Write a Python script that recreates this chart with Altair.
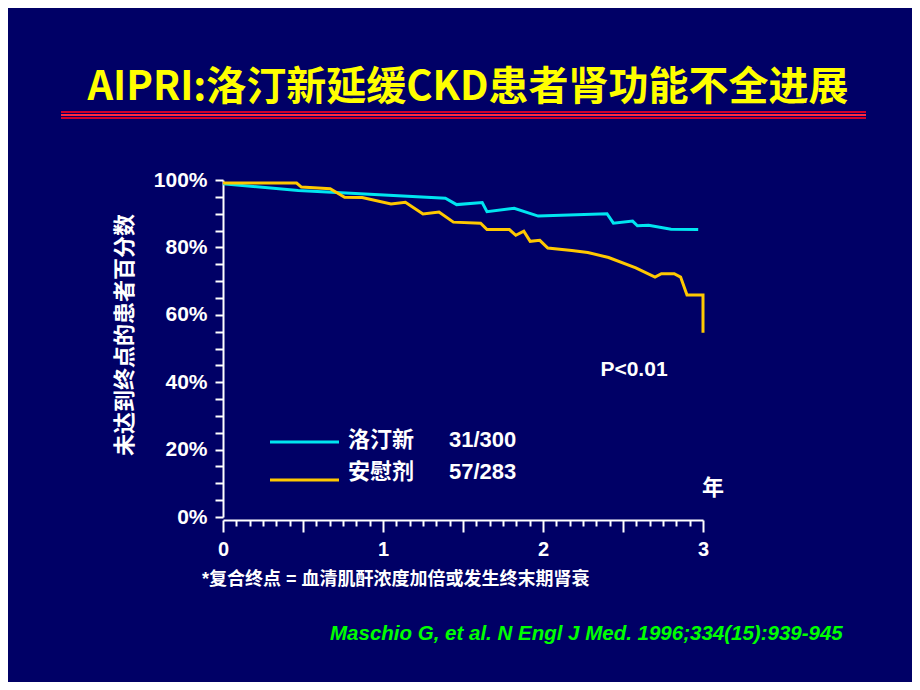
import altair as alt
import pandas as pd

# ---- data ----
lot_t = [0.0, 0.47, 0.68, 1.39, 1.46, 1.62, 1.65, 1.82, 1.97, 2.40, 2.44, 2.56, 2.59, 2.66, 2.80, 2.97]
lot_v = [98.9, 96.9, 96.4, 94.6, 92.7, 93.3, 90.6, 91.6, 89.3, 90.0, 87.2, 87.8, 86.4, 86.6, 85.4, 85.3]

pla_t = [0.0, 0.46, 0.49, 0.67, 0.76, 0.87, 1.05, 1.14, 1.25, 1.35, 1.44, 1.61, 1.65, 1.79, 1.83, 1.88,
         1.92, 1.98, 2.03, 2.18, 2.28, 2.41, 2.58, 2.70, 2.74, 2.82, 2.86, 2.90, 3.0, 3.0]
pla_v = [99.1, 99.1, 97.9, 97.4, 94.9, 94.8, 92.9, 93.4, 89.9, 90.5, 87.5, 87.2, 85.3, 85.3, 83.6, 84.8,
         81.8, 82.1, 79.8, 79.1, 78.5, 77.0, 73.9, 71.2, 72.2, 72.2, 71.2, 65.9, 65.9, 54.7]

groups = ["洛汀新", "安慰剂"]
counts = ["31/300", "57/283"]
colors = ["#00E5F0", "#FFC800"]

title_text = "AIPRI:洛汀新延缓CKD患者肾功能不全进展"
y_title = "未达到终点的患者百分数"
p_text = "P<0.01"
x_unit = "年"
footnote = "*复合终点 = 血清肌酐浓度加倍或发生终末期肾衰"
citation = "Maschio G, et al. N Engl J Med. 1996;334(15):939-945"

x_tick_values = [i / 12 for i in range(37)]
y_tick_values = list(range(0, 101, 5))

BG = "#000066"
LAT = "Liberation Sans, Noto Sans CJK SC"
CJK = "Noto Sans CJK SC"

rows = []
for g, ts, vs in [(groups[0], lot_t, lot_v), (groups[1], pla_t, pla_v)]:
    for i, (t, v) in enumerate(zip(ts, vs)):
        rows.append({"group": g, "t": t, "v": v, "order": i})
df = pd.DataFrame(rows)

x_scale = alt.Scale(domain=[0, 3], nice=False, zero=False)
y_scale = alt.Scale(domain=[0, 100], nice=False)

lines = alt.Chart(df).mark_line(strokeWidth=3).encode(
    x=alt.X("t:Q", scale=x_scale,
            axis=alt.Axis(values=x_tick_values, title=None, grid=False,
                          tickSize={"condition": {"test": "abs(datum.value*2 - round(datum.value*2)) < 0.01", "value": 12}, "value": 6},
                          labelExpr="abs(datum.value - round(datum.value)) < 0.01 ? format(datum.value, 'd') : ''",
                          labelOverlap=False, labelFlush=False, labelPadding=7,
                          labelFontSize=20, labelFont=LAT, labelFontWeight="bold", labelColor="white",
                          domainColor="white", domainWidth=2, tickColor="white", tickWidth=2, offset=3)),
    y=alt.Y("v:Q", scale=y_scale,
            axis=alt.Axis(values=y_tick_values, title=None, grid=False, tickSize=8,
                          labelExpr="datum.value % 20 == 0 ? datum.value + '%' : ''",
                          labelOverlap=False, labelFlush=False, labelPadding=8,
                          labelFontSize=21, labelFont=LAT, labelFontWeight="bold", labelColor="white",
                          domainColor="white", domainWidth=2, tickColor="white", tickWidth=2)),
    color=alt.Color("group:N", scale=alt.Scale(domain=groups, range=colors), legend=None),
    order="order:Q",
)


def txt(s, x, y, size, color="white", font=LAT, align="center", angle=0, italic=False, baseline="middle"):
    kw = dict(fontSize=size, font=font, fontWeight="bold", color=color, align=align, baseline=baseline)
    if angle:
        kw["angle"] = angle
    if italic:
        kw["fontStyle"] = "italic"
    return alt.Chart(pd.DataFrame({"s": [s]})).mark_text(**kw).encode(
        text="s:N", x=alt.value(x), y=alt.value(y))


def hrule(x1, x2, y, color, w):
    return alt.Chart(pd.DataFrame({"a": [0]})).mark_rule(color=color, strokeWidth=w).encode(
        x=alt.value(x1), x2=alt.value(x2), y=alt.value(y))


layers = [
    lines,
    txt(title_text, 245, -92, 40, color="#FFFF00", font=CJK),
    hrule(-162, 643, -68, "#D0002A", 2),
    hrule(-162, 643, -65, "#FF2A40", 2),
    hrule(-162, 643, -62, "#D0002A", 2),
    txt(y_title, -98, 155, 22, font=CJK, angle=270),
    hrule(47, 116, 262, colors[0], 3),
    hrule(47, 116, 300, colors[1], 3),
    txt(groups[0], 125, 260, 22, font=CJK, align="left"),
    txt(groups[1], 125, 292, 22, font=CJK, align="left"),
    txt(counts[0], 226, 260, 22, align="left"),
    txt(counts[1], 226, 292, 22, align="left"),
    txt(p_text, 411, 190, 21),
    txt(x_unit, 490, 308, 22, font=CJK),
    txt(footnote, -21, 400, 18, font=LAT, align="left"),
    txt(citation, 107, 454, 20.5, color="#00FF00", align="left", italic=True),
]

chart = alt.layer(*layers).properties(
    width=480, height=337,
    autosize=alt.AutoSizeParams(type="none"),
    padding={"left": 215, "top": 172, "right": 209, "bottom": 165},
    background=BG,
).configure_view(stroke=None)

chart.save("out.html", embed_options={"renderer": "svg", "actions": False})
